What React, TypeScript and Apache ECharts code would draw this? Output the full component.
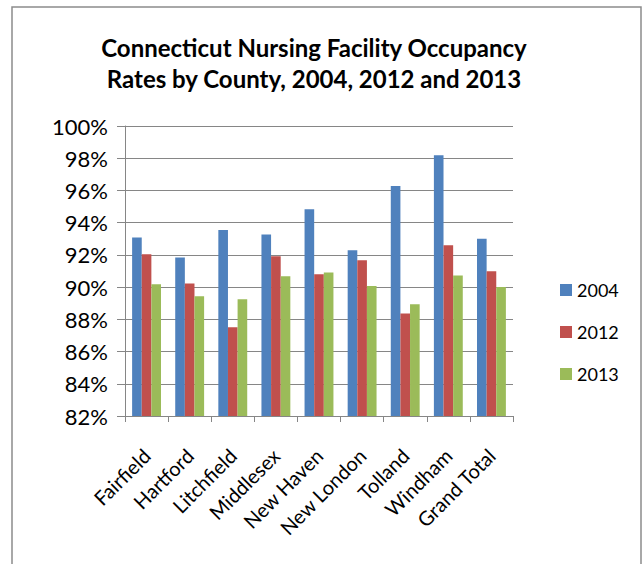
import React, { useEffect, useRef } from "react";
import * as echarts from "echarts";

const categories = ["Fairfield", "Hartford", "Litchfield", "Middlesex", "New Haven", "New London", "Tolland", "Windham", "Grand Total"];
const values2004 = [93.08, 91.84, 93.54, 93.27, 94.84, 92.29, 96.27, 98.18, 93.0];
const values2012 = [92.04, 90.22, 87.51, 91.92, 90.8, 91.67, 88.36, 92.6, 90.99];
const values2013 = [90.18, 89.43, 89.25, 90.68, 90.91, 90.07, 88.94, 90.72, 90.0];
const seriesNames = ["2004", "2012", "2013"];
const colors = ["#4F81BD", "#C0504D", "#9BBB59"];

const FONT = "Lato";

export default function App() {
  const ref = useRef<HTMLDivElement>(null);
  useEffect(() => {
    if (!ref.current) return;
    const chart = echarts.init(ref.current, null, { renderer: "svg" });
    const data = [values2004, values2012, values2013];
    chart.setOption({
      animation: false,
      backgroundColor: "#ffffff",
      title: {
        text: "Connecticut Nursing Facility Occupancy\nRates by County, 2004, 2012 and 2013",
        left: 309,
        top: 27,
        textAlign: "center",
        textStyle: {
          fontFamily: FONT,
          fontWeight: "bold",
          fontSize: 24,
          lineHeight: 31,
          color: "#000000",
        },
      },
      graphic: [
        {
          type: "rect",
          shape: { x: 12, y: 7, width: 629, height: 600 },
          style: { fill: "none", stroke: "#8c8c8c", lineWidth: 1.5 },
          silent: true,
        },
      ],
      legend: {
        orient: "vertical",
        left: 555,
        top: 276,
        itemWidth: 12,
        itemHeight: 12,
        itemGap: 24,
        icon: "rect",
        selectedMode: false,
        textStyle: { fontFamily: FONT, fontSize: 18, color: "#000000", padding: [0, 0, 0, 0] },
        data: seriesNames,
      },
      grid: { left: 125, right: 130, top: 126, bottom: 148, containLabel: false },
      xAxis: {
        type: "category",
        data: categories,
        axisLine: { show: true, lineStyle: { color: "#868686", width: 1 } },
        axisTick: { show: true, length: 6, alignWithLabel: false, lineStyle: { color: "#868686" } },
        axisLabel: {
          interval: 0,
          rotate: 45,
          margin: 36,
          fontFamily: FONT,
          fontSize: 20,
          color: "#000000",
        },
      },
      yAxis: {
        type: "value",
        min: 82,
        max: 100,
        interval: 2,
        axisLine: { show: true, lineStyle: { color: "#868686", width: 1 } },
        axisTick: { show: true, length: 8, lineStyle: { color: "#868686" } },
        splitLine: { show: true, lineStyle: { color: "#868686", width: 1 } },
        axisLabel: {
          margin: 17,
          fontFamily: FONT,
          fontSize: 22,
          color: "#000000",
          formatter: (v: number) => `${v}%`,
        },
      },
      series: seriesNames.map((name, i) => ({
        name,
        type: "bar",
        data: data[i],
        barGap: "0%",
        barCategoryGap: "33%",
        itemStyle: { color: colors[i] },
        silent: true,
      })),
    });
    return () => chart.dispose();
  }, []);
  return <div ref={ref} style={{ position: "absolute", left: 0, top: 0, width: 643, height: 564 }} />;
}
